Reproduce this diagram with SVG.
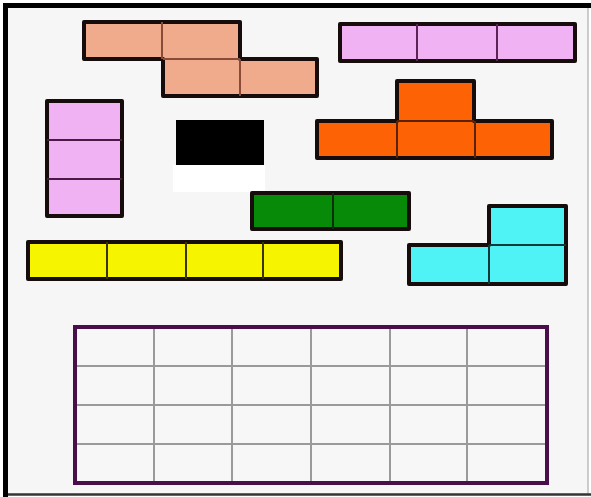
<svg xmlns="http://www.w3.org/2000/svg" width="591" height="497" viewBox="0 0 591 497">
<style>
.piece{stroke:#160c0c;stroke-width:4;stroke-linejoin:round}
.div{stroke-width:2;fill:none}
.salmon{fill:#f0aa8c}
.pink{fill:#f0b2f2}
.orange{fill:#fd6205}
.green{fill:#078a07}
.cyan{fill:#4ff3f5}
.yellow{fill:#f7f400}
.gline{stroke:#9a9a9a;stroke-width:2;fill:none}
</style>
<rect x="0" y="0" width="591" height="497" fill="#ffffff"/>
<rect x="5" y="5" width="583" height="490" fill="#f6f6f6"/>
<line x1="588" y1="5" x2="588" y2="495" stroke="#bdbdbd" stroke-width="1.5"/>
<line x1="3" y1="494.5" x2="591" y2="494.5" stroke="#333" stroke-width="2.5"/>
<path d="M5.5 497 V5.5 H591" fill="none" stroke="#000" stroke-width="5"/>

<g id="salmon-piece">
<path class="piece salmon" d="M84 22 H240 V59 H317 V96 H163 V59 H84 Z"/>
<path class="div" stroke="#8a4a38" d="M162 22 V59 M163 59 H240 M240 59 V96"/>
</g>

<g id="pink-horizontal">
<rect class="piece pink" x="340" y="24" width="235" height="37"/>
<path class="div" stroke="#5c2356" d="M417 24 V61 M497 24 V61"/>
</g>

<g id="pink-vertical">
<rect class="piece pink" x="47" y="101" width="75" height="115"/>
<path class="div" stroke="#4a1a46" d="M47 140 H122 M47 179 H122"/>
</g>

<g id="black-block">
<rect x="176" y="120" width="88" height="45" fill="#000"/>
<rect x="173" y="165" width="92" height="27" fill="#ffffff"/>
</g>

<g id="orange-piece">
<path class="piece orange" d="M397 81 H474 V121 H552 V158 H317 V121 H397 Z"/>
<path class="div" stroke="#5a2200" d="M397 121 V158 M475 121 V158 M397 121 H474"/>
</g>

<g id="green-piece">
<rect class="piece green" x="252" y="193" width="157" height="36"/>
<path class="div" stroke="#0c300c" d="M333 193 V229"/>
</g>

<g id="cyan-piece">
<path class="piece cyan" d="M489 206 H566 V284 H409 V245 H489 Z"/>
<path class="div" stroke="#0c3a3a" d="M489 245 V284 M489 245 H566"/>
</g>

<g id="yellow-piece">
<rect class="piece yellow" x="28" y="242" width="313" height="37"/>
<path class="div" stroke="#3a3500" d="M107 242 V279 M186 242 V279 M263 242 V279"/>
</g>

<g id="grid">
<rect x="75" y="327" width="472" height="156" fill="#f7f7f7"/>
<path class="gline" d="M154 327 V483 M232 327 V483 M311 327 V483 M390 327 V483 M467 327 V483 M75 366 H547 M75 405 H547 M75 444 H547"/>
<rect x="75" y="327" width="472" height="156" fill="none" stroke="#4a0f4a" stroke-width="4"/>
</g>
</svg>
